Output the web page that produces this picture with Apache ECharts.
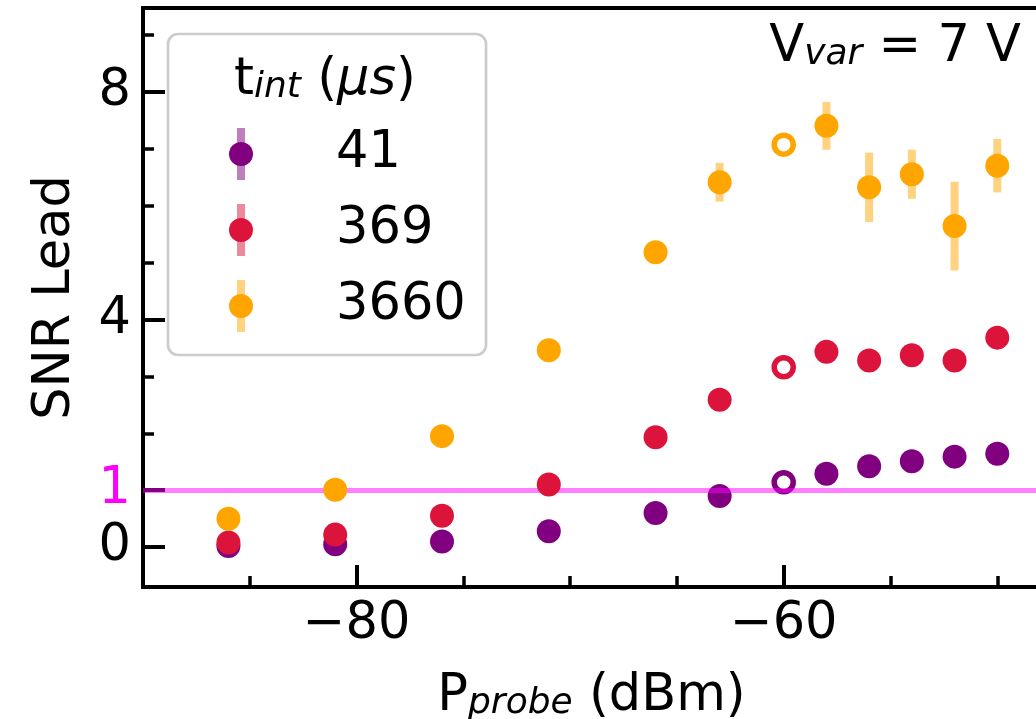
<!DOCTYPE html>
<html>
<head>
<meta charset="utf-8">
<script src="https://cdn.jsdelivr.net/npm/echarts@6/dist/echarts.min.js"></script>
<style>
  html, body { margin: 0; padding: 0; background: #fff; }
  #chart { width: 1036px; height: 719px; }
</style>
</head>
<body>
<div id="chart"></div>
<script>
// Probe power (dBm) for every measurement
const probePower = [-86, -81, -76, -71, -66, -63, -60, -58, -56, -54, -52, -50];

// SNR lead for each integration time
const snr41   = [0.02, 0.05, 0.10, 0.28, 0.60, 0.90, 1.14, 1.29, 1.42, 1.51, 1.59, 1.64];
const snr369  = [0.08, 0.22, 0.55, 1.10, 1.93, 2.59, 3.16, 3.43, 3.28, 3.37, 3.28, 3.68];
const snr3660 = [0.50, 1.01, 1.95, 3.46, 5.18, 6.41, 7.07, 7.40, 6.32, 6.55, 5.64, 6.70];

// Error bars (half-width) for the 3660 us series
const err3660 = [0, 0, 0, 0, 0, 0.34, 0, 0.42, 0.61, 0.43, 0.78, 0.47];

// Index of the point drawn as an open marker
const openIndex = 6;

const seriesNames = ['41', '369', '3660'];
const seriesColors = ['#800080', '#DC143C', '#FFA500'];
const seriesFaded = ['rgba(128,0,128,0.5)', 'rgba(220,20,60,0.5)', 'rgba(255,165,0,0.5)'];

// Axis ticks
const xMajorTicks = [-80, -60];
const xMinorTicks = [-85, -75, -70, -65, -55, -50];
const yMajorTicks = [0, 1, 4, 8];
const yMinorTicks = [2, 3, 5, 6, 7, 9];
const unityLevel = 1;

const F = 'DejaVu Sans';
const FS = 51;
const SUB = 36;

const rich = {
  n: { fontFamily: F, fontSize: FS, lineHeight: FS, verticalAlign: 'bottom', color: '#000' },
  i: { fontFamily: F, fontSize: FS, fontStyle: 'italic', lineHeight: FS, verticalAlign: 'bottom', color: '#000' },
  s: { fontFamily: F, fontSize: SUB, fontStyle: 'italic', lineHeight: 24, verticalAlign: 'bottom', color: '#000' }
};

const minus = v => (v < 0 ? '\u2212' : '') + Math.abs(v);

function pointData(ys, color) {
  return probePower.map((x, i) => {
    if (i === openIndex) {
      return {
        value: [x, ys[i]],
        symbolSize: 19,
        itemStyle: { color: '#fff', borderColor: color, borderWidth: 5.5 }
      };
    }
    return [x, ys[i]];
  });
}

const chart = echarts.init(document.getElementById('chart'), null, { renderer: 'canvas' });

const xBase = {
  type: 'value', min: -90, max: -48, gridIndex: 0, position: 'bottom',
  splitLine: { show: false }, axisLine: { show: false, onZero: false }
};
const yBase = {
  type: 'value', min: -0.7, max: 9.47, gridIndex: 0, position: 'left',
  splitLine: { show: false }, axisLine: { show: false, onZero: false }
};

// Legend layout
const legendRows = [154, 230, 306];
const legendMarkerX = 241;
const legendGraphics = [
  {
    type: 'rect', z: 50,
    shape: { x: 168, y: 34, width: 318, height: 321, r: 10 },
    style: { fill: 'rgba(255,255,255,0.8)', stroke: '#cccccc', lineWidth: 2.7 }
  },
  {
    type: 'text', z: 51, x: 325, y: 106,
    style: {
      text: '{n|t}{s|int}{n| (}{i|\u03bcs}{n|)}',
      rich: rich, align: 'center', verticalAlign: 'bottom'
    }
  }
];
seriesNames.forEach((name, k) => {
  const cy = legendRows[k];
  legendGraphics.push(
    { type: 'rect', z: 51, shape: { x: legendMarkerX - 4, y: cy - 26, width: 8, height: 52 },
      style: { fill: seriesFaded[k] } },
    { type: 'circle', z: 52, shape: { cx: legendMarkerX, cy: cy, r: 12 },
      style: { fill: seriesColors[k] } },
    { type: 'text', z: 52, x: 336, y: cy,
      style: { text: name, fontFamily: F, fontSize: FS, fill: '#000', align: 'left', verticalAlign: 'middle' } }
  );
});

legendGraphics.push({
  type: 'text', z: 52, x: 1021, y: 73,
  style: {
    text: '{n|V}{s|var}{n| = 7 V}',
    rich: rich, align: 'right', verticalAlign: 'bottom'
  }
});

const option = {
  animation: false,
  backgroundColor: '#fff',
  grid: {
    left: 143, top: 8, right: -4, bottom: 132,
    show: true, borderColor: '#000', borderWidth: 4, backgroundColor: 'transparent',
    containLabel: false, outerBoundsMode: 'none'
  },
  xAxis: [
    Object.assign({}, xBase, {
      name: '{n|P}{s|probe}{n| (dBm)}',
      nameLocation: 'middle', nameGap: 84,
      nameTextStyle: { rich: rich },
      axisTick: { show: true, inside: true, length: 22, customValues: xMajorTicks,
                  lineStyle: { color: '#000', width: 4 } },
      axisLabel: { show: true, customValues: xMajorTicks, formatter: minus, margin: 12,
                   fontFamily: F, fontSize: FS, color: '#000' }
    }),
    Object.assign({}, xBase, {
      axisTick: { show: true, inside: true, length: 11, customValues: xMinorTicks,
                  lineStyle: { color: '#000', width: 3.5 } },
      axisLabel: { show: false }
    })
  ],
  yAxis: [
    Object.assign({}, yBase, {
      name: 'SNR Lead', nameLocation: 'middle', nameGap: 62,
      nameTextStyle: { fontFamily: F, fontSize: FS, color: '#000' },
      axisTick: { show: true, inside: true, length: 22, customValues: yMajorTicks,
                  lineStyle: { color: '#000', width: 4 } },
      axisLabel: { show: true, customValues: yMajorTicks, margin: 12,
                   fontFamily: F, fontSize: FS,
                   color: v => (Number(v) === unityLevel ? '#ff00ff' : '#000') }
    }),
    Object.assign({}, yBase, {
      axisTick: { show: true, inside: true, length: 11, customValues: yMinorTicks,
                  lineStyle: { color: '#000', width: 3.5 } },
      axisLabel: { show: false }
    })
  ],
  graphic: legendGraphics,
  series: [
    {
      // unity reference line
      type: 'line', xAxisIndex: 0, yAxisIndex: 0, data: [], z: 2, silent: true,
      markLine: {
        silent: true, symbol: ['none', 'none'], label: { show: false },
        lineStyle: { color: 'rgba(255,0,255,0.5)', width: 5, type: 'solid' },
        data: [{ yAxis: unityLevel }]
      }
    },
    {
      type: 'custom', name: 'err3660', xAxisIndex: 0, yAxisIndex: 0, z: 3, silent: true,
      data: probePower.map((x, i) => [x, snr3660[i], err3660[i]]),
      encode: { x: 0, y: 1 },
      renderItem: (params, api) => {
        const e = api.value(2);
        if (!e) return null;
        const x = api.value(0), y = api.value(1);
        const top = api.coord([x, y + e]);
        const bot = api.coord([x, y - e]);
        return {
          type: 'rect',
          shape: { x: top[0] - 4, y: top[1], width: 8, height: bot[1] - top[1] },
          style: { fill: seriesFaded[2] }
        };
      }
    },
    ...[snr41, snr369, snr3660].map((ys, k) => ({
      type: 'scatter', name: seriesNames[k], xAxisIndex: 0, yAxisIndex: 0,
      z: 4 + k, silent: true, symbol: 'circle', symbolSize: 24,
      itemStyle: { color: seriesColors[k], opacity: 1 },
      data: pointData(ys, seriesColors[k])
    }))
  ]
};

chart.setOption(option);
</script>
</body>
</html>
